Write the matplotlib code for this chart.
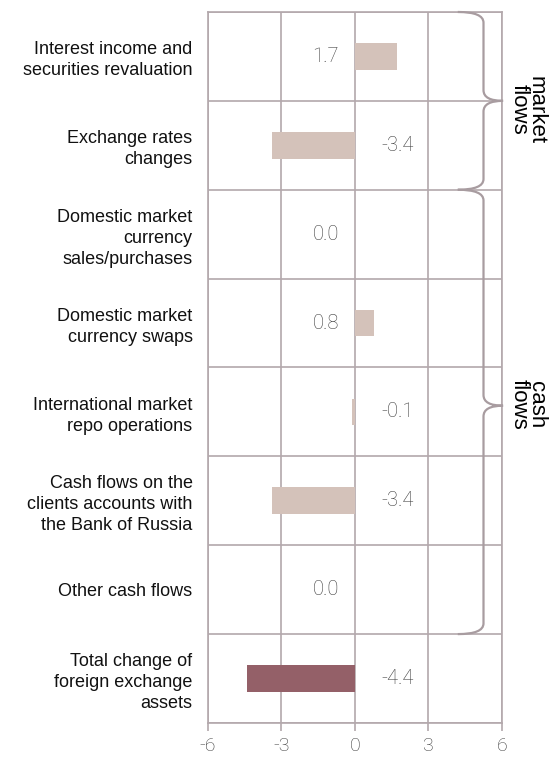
import numpy as np
import matplotlib.pyplot as plt
from matplotlib.path import Path
from matplotlib.patches import PathPatch

plt.rcParams['font.family'] = ['Liberation Sans', 'DejaVu Sans']

categories = [
    "Interest income and\nsecurities revaluation",
    "Exchange rates\nchanges",
    "Domestic market\ncurrency\nsales/purchases",
    "Domestic market\ncurrency swaps",
    "International market\nrepo operations",
    "Cash flows on the\nclients accounts with\nthe Bank of Russia",
    "Other cash flows",
    "Total change of\nforeign exchange\nassets",
]
values = [1.7, -3.4, 0.0, 0.8, -0.1, -3.4, 0.0, -4.4]
xticks = [-6, -3, 0, 3, 6]

light = "#d4c2ba"
dark = "#946068"
grid_c = "#b3a8ac"
brace_c = "#a89ca0"
thin = dict(family=['Roboto', 'Liberation Sans'], weight='light')


def brace(ax, y0, y1, ym, x0=4.2, xv=5.25, xt=6.05, d=0.12):
    verts = [(x0, y0), (xv, y0), (xv, y0 + d),
             (xv, ym - d), (xv, ym), (xt, ym),
             (xv, ym), (xv, ym + d),
             (xv, y1 - d), (xv, y1), (x0, y1)]
    codes = [Path.MOVETO, Path.CURVE3, Path.CURVE3,
             Path.LINETO, Path.CURVE3, Path.CURVE3,
             Path.CURVE3, Path.CURVE3,
             Path.LINETO, Path.CURVE3, Path.CURVE3]
    ax.add_patch(PathPatch(Path(verts, codes), fill=False, edgecolor=brace_c,
                           lw=1.6, clip_on=False, zorder=4))


fig = plt.figure(figsize=(5.5, 7.58), dpi=100)
ax = fig.add_axes([0.378, 0.0462, 0.5345, 0.938])

y = np.arange(len(categories))
colors = [light] * (len(values) - 1) + [dark]
ax.barh(y, values, height=0.3, color=colors, zorder=3)

for yi, v in zip(y, values):
    if v < 0:
        ax.text(1.75, yi, f"{v:.1f}", ha="center", va="center", fontsize=14.5,
                color="#3c3c3c", zorder=5, **thin)
    else:
        ax.text(-1.2, yi, f"{v:.1f}", ha="center", va="center", fontsize=14.5,
                color="#3c3c3c", zorder=5, **thin)

ax.set_xlim(-6, 6)
ax.set_ylim(len(categories) - 0.5, -0.5)
ax.set_xticks(xticks)
ax.set_xticklabels([str(t) for t in xticks], fontsize=14, color="#3c3c3c", **thin)
ax.set_yticks(y)
ax.set_yticklabels(categories, fontsize=13, color="#111111", multialignment="right",
                   linespacing=1.3)
ax.tick_params(axis="y", length=0, pad=11)
ax.tick_params(axis="x", length=6, color=grid_c, width=1.2, pad=4)

ax.set_yticks(np.arange(len(categories) + 1) - 0.5, minor=True)
ax.tick_params(axis="y", which="minor", length=0)
ax.grid(axis="y", which="minor", color=grid_c, lw=1.2, zorder=1)
ax.grid(axis="x", which="major", color=grid_c, lw=1.2, zorder=1)
for s in ax.spines.values():
    s.set_color(grid_c)
    s.set_linewidth(1.2)

brace(ax, -0.5, 1.5, 0.5)
brace(ax, 1.5, 6.5, 3.93)

ax.text(7.05, 0.6, "market\nflows", rotation=-90, ha="center", va="center",
        fontsize=16, linespacing=0.8, multialignment="center", clip_on=False)
ax.text(7.05, 3.92, "cash\nflows", rotation=-90, ha="center", va="center",
        fontsize=16, linespacing=0.8, multialignment="center", clip_on=False)

fig.savefig("out.png", dpi=100)
